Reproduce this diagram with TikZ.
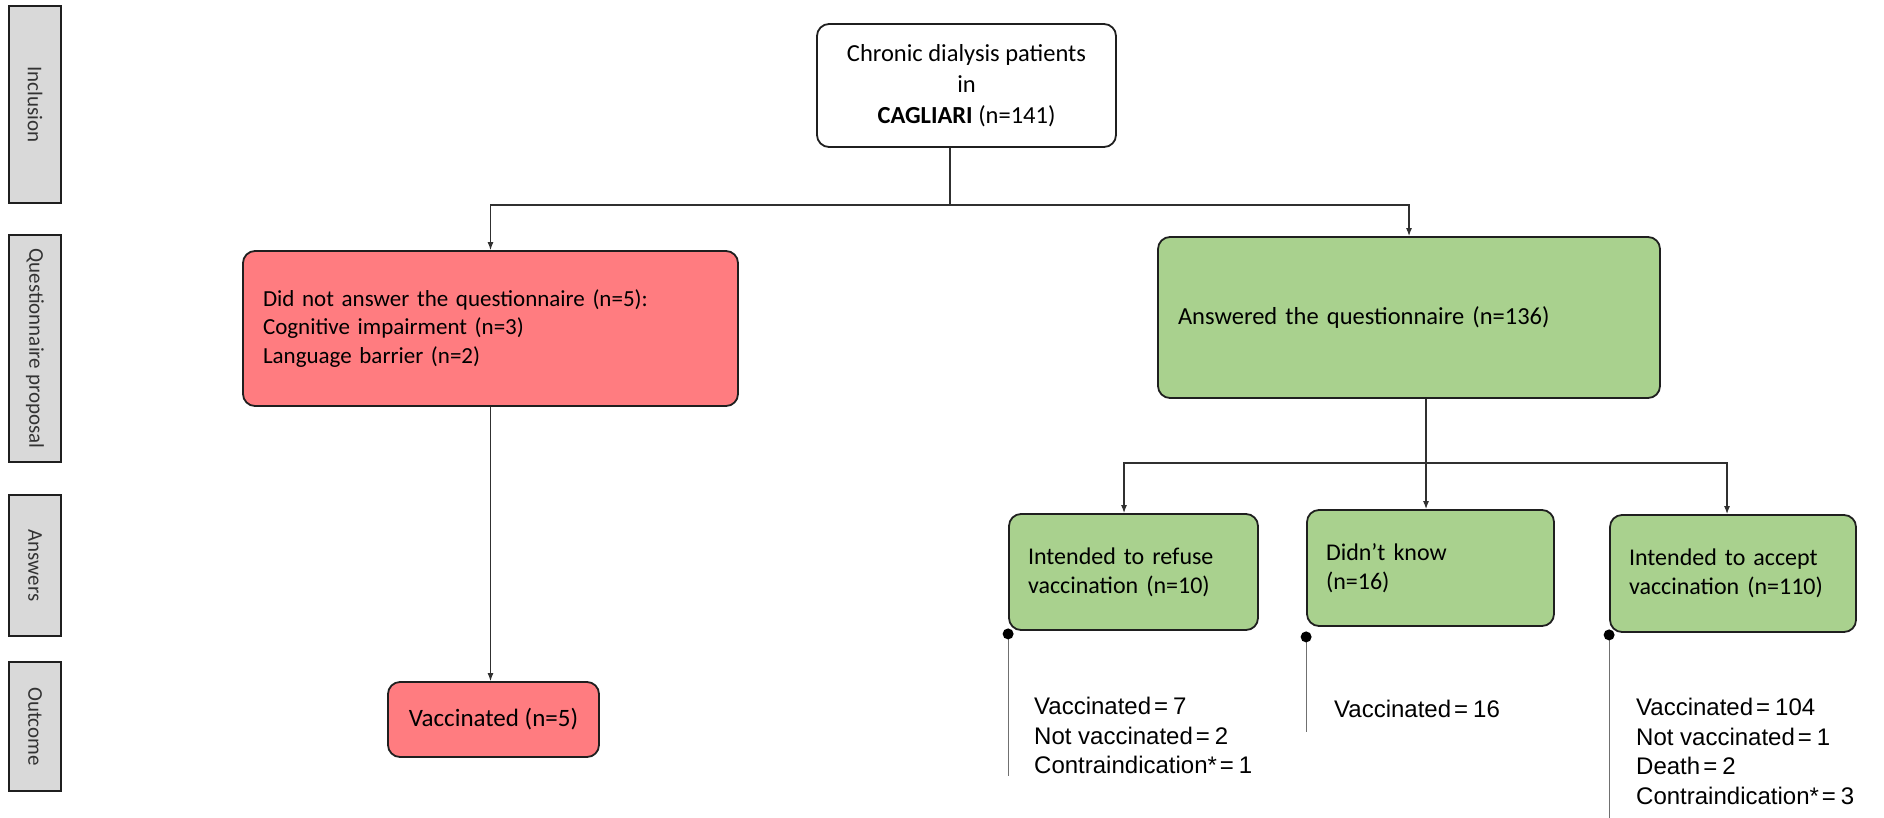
\documentclass[tikz,border=0pt]{standalone}
\usepackage{fontspec}
\setmainfont{Carlito}
\newfontfamily\arialf{Liberation Sans}
\usetikzlibrary{arrows.meta,calc}
\definecolor{redbox}{HTML}{FF7C80}
\definecolor{greenbox}{HTML}{A9D18E}
\definecolor{sidegray}{HTML}{D9D9D9}
\definecolor{edgecol}{HTML}{1F1F1F}
\definecolor{conncol}{HTML}{303030}
\definecolor{listcol}{HTML}{707070}
\newcommand{\eqs}{\hspace{3pt}=\hspace{5pt}}
\begin{document}
\begin{tikzpicture}[x=1pt,y=-1pt,
  sidebox/.style={draw=edgecol, line width=1.8pt, fill=sidegray, rotate=-90,
    minimum height=52pt, inner sep=0pt, text=black!80,
    font=\fontsize{21}{25}\selectfont},
  flowbox/.style={draw=edgecol, line width=1.8pt, rounded corners=12pt,
    inner sep=0pt, font=\fontsize{24}{29}\selectfont},
  leftbox/.style={flowbox, align=left, inner xsep=20pt},
  conn/.style={draw=conncol, line width=1.2pt},
  arr/.style={conn, -{Latex[length=8pt,width=6pt]}},
  listline/.style={draw=listcol, line width=1.2pt},
  listtext/.style={inner sep=0pt, align=left, anchor=west,
    font=\arialf\fontsize{24}{29.5}\selectfont},
  dot/.style={fill=black}
]
\useasboundingbox (0,0) rectangle (1884,817);

% side labels
\node[sidebox, minimum width=197pt] (s1) at (35,104.5) {Inclusion};
\node[sidebox, minimum width=227pt] (s2) at (35,348.5) {Questionnaire proposal};
\node[sidebox, minimum width=141pt] (s3) at (35,565.5) {Answers};
\node[sidebox, minimum width=129pt] (s4) at (35,726.5) {Outcome};

% main boxes
\node[flowbox, fill=white, minimum width=299pt, minimum height=123pt,
  align=center, font=\fontsize{24.5}{31}\selectfont] (top) at (966.5,85.5)
  {Chronic dialysis patients\\in\\\textbf{CAGLIARI} (n=141)};

\node[leftbox, fill=redbox, text width=455pt, minimum height=155pt,
  font=\fontsize{23}{28.5}\selectfont] (nr) at (490.5,328.5)
  {Did not answer the questionnaire (n=5):\\Cognitive impairment (n=3)\\Language barrier (n=2)};

\node[leftbox, fill=greenbox, text width=462pt, minimum height=161pt,
  font=\fontsize{24.5}{29}\selectfont] (gq) at (1409,317.5)
  {Answered the questionnaire (n=136)};

\node[flowbox, fill=redbox, minimum width=211pt, minimum height=75pt,
  font=\fontsize{25}{29}\selectfont] (v5) at (493.5,719.5)
  {Vaccinated (n=5)};

\node[leftbox, fill=greenbox, inner xsep=19pt, text width=211pt, minimum height=116pt] (a1) at (1133.5,572)
  {Intended to refuse\\vaccination (n=10)};
\node[leftbox, fill=greenbox, inner xsep=19pt, text width=209pt, minimum height=116pt] (a2) at (1430.5,568)
  {Didn’t know\\(n=16)};
\node[leftbox, fill=greenbox, inner xsep=19pt, text width=208pt, minimum height=117pt] (a3) at (1733,573.5)
  {Intended to accept\\vaccination (n=110)};

% connectors
\coordinate (xa) at (950,205);
\draw[conn] (top.south -| xa) -- (xa);
\draw[arr] (xa) -| (nr.north);
\draw[arr] (xa) -| (gq.north);
\draw[arr] (nr.south) -- (nr.south |- v5.north);

\coordinate (xb) at (1426,463);
\coordinate (t1) at (1124,0);
\coordinate (t2) at (1426,0);
\coordinate (t3) at (1727,0);
\draw[conn] (gq.south -| xb) -- (xb);
\draw[arr] (xb) -| (a1.north -| t1);
\draw[arr] (xb) -| (a3.north -| t3);
\draw[arr] (xb) -- (a2.north -| t2);

% outcome lists
\coordinate (d1) at ($(a1.south west)+(0,3)$);
\coordinate (d2) at ($(a2.south west)+(0,10)$);
\coordinate (d3) at ($(a3.south west)+(0,2)$);
\coordinate (e1) at ($(d1)+(0,142)$);
\coordinate (e2) at ($(d2)+(0,95)$);
\coordinate (e3) at ($(d3)+(0,185)$);
\draw[listline] (d1) -- (e1);
\draw[listline] (d2) -- (e2);
\draw[listline] (d3) -- (e3);
\fill[dot] (d1) circle (5.5);
\fill[dot] (d2) circle (5.5);
\fill[dot] (d3) circle (5.5);

\node[listtext] (l1) at (1034,735.5) {Vaccinated\eqs 7\\Not vaccinated\eqs 2\\Contraindication*\eqs 1};
\node[listtext] (l2) at (1334,709) {Vaccinated\eqs 16};
\node[listtext] (l3) at (1636,751.5) {Vaccinated\eqs 104\\Not vaccinated\eqs 1\\Death\eqs 2\\Contraindication*\eqs 3};
\end{tikzpicture}
\end{document}
